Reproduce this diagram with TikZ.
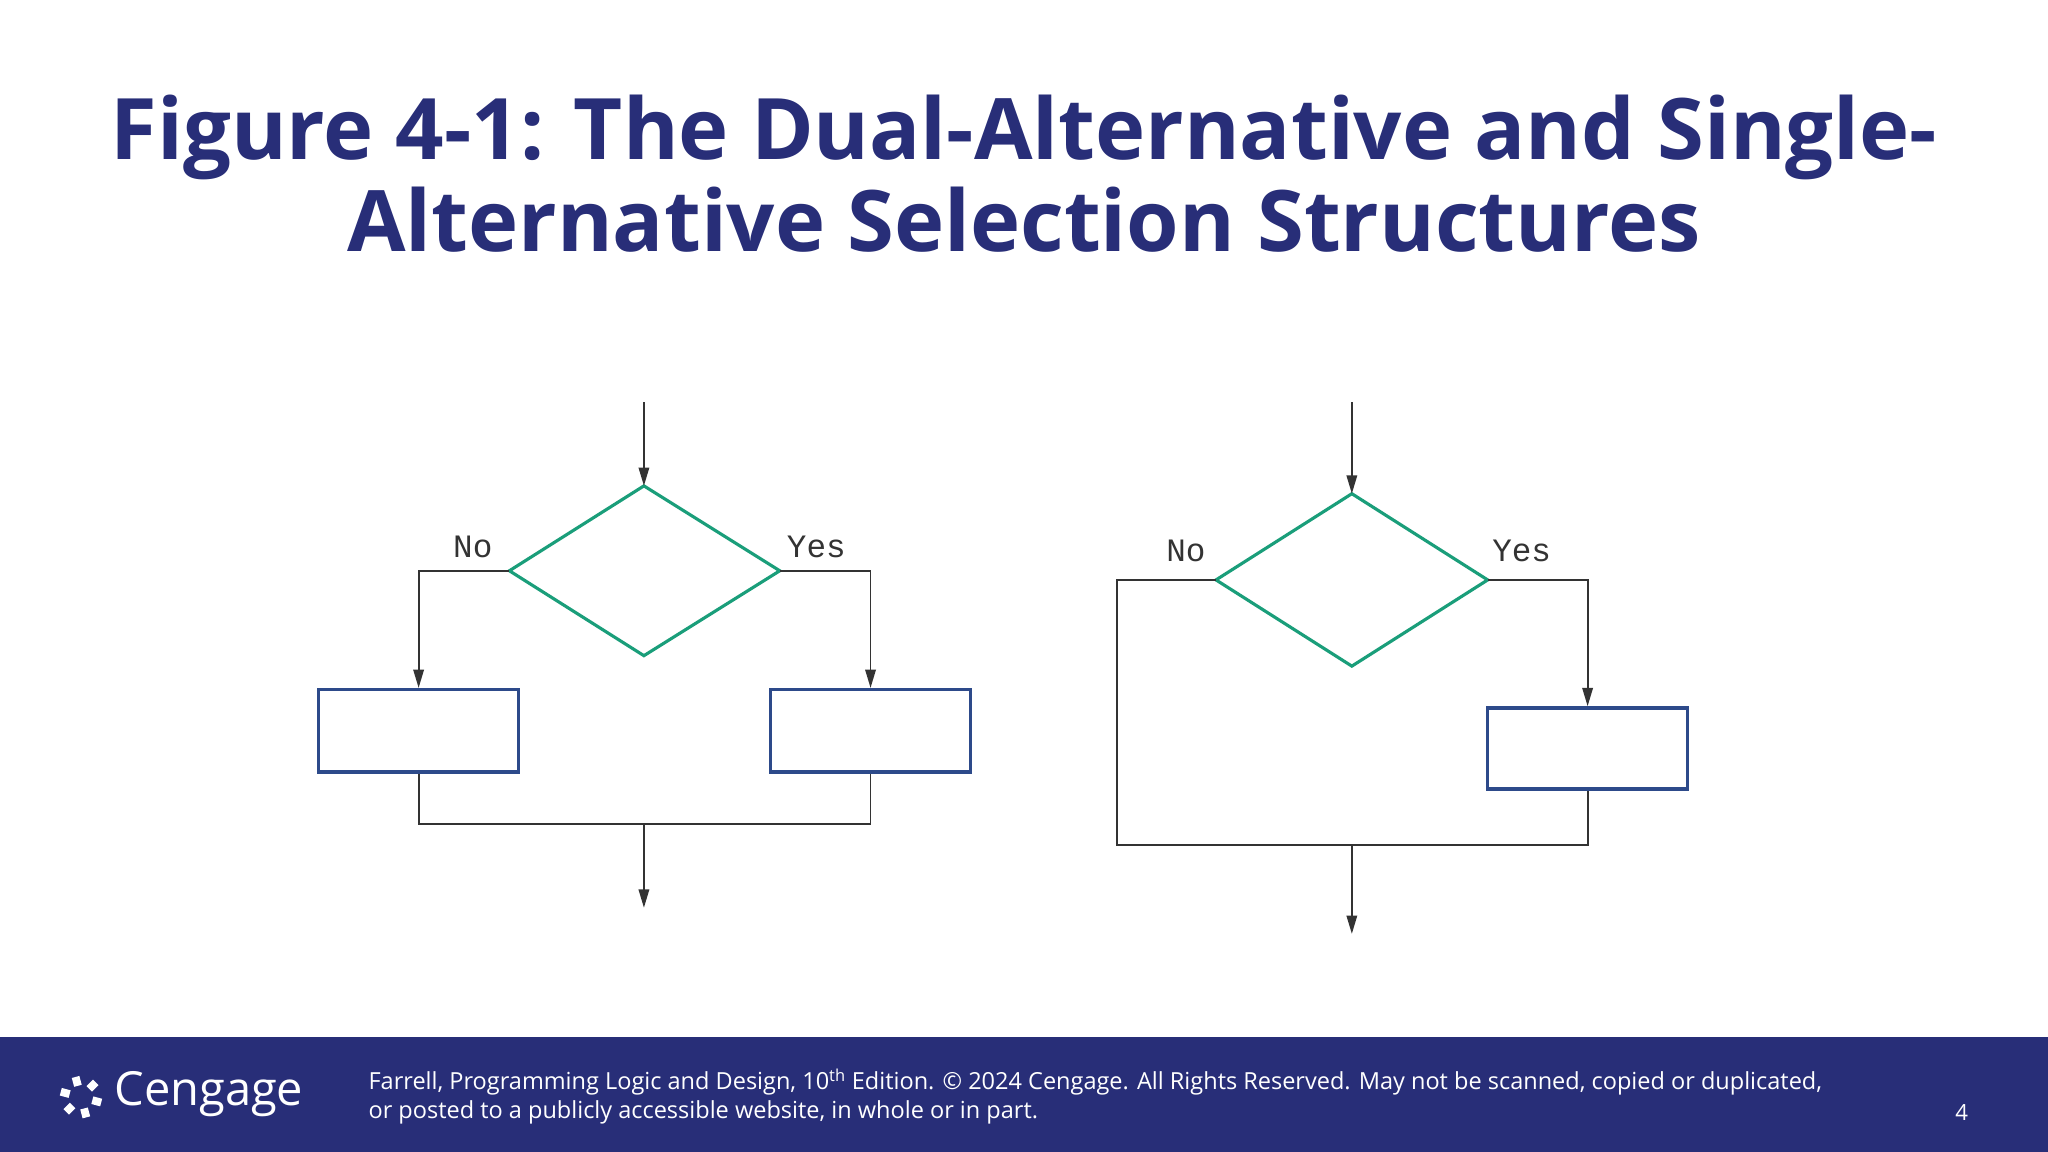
\documentclass[tikz,border=0pt]{standalone}
\usepackage{fontspec}
\setmainfont{Open Sans}
\newfontfamily\cour{Liberation Mono}
\usetikzlibrary{arrows.meta,calc}
\definecolor{navy}{HTML}{282E78}
\definecolor{dgreen}{HTML}{1A9E7A}
\definecolor{bbox}{HTML}{2D4A8A}
\definecolor{lgray}{HTML}{333333}
\tikzset{
 dia/.style={draw=dgreen,line width=2.4pt},
 pbox/.style={draw=bbox,line width=2.6pt},
 conn/.style={draw=lgray,line width=1.4pt},
 arr/.style={conn,-{Triangle[length=14pt,width=8pt]}},
 lbl/.style={font=\cour\fontsize{25}{28}\selectfont,text=lgray}
}
\begin{document}
\begin{tikzpicture}[x=1pt,y=-1pt]
\useasboundingbox (0,0) rectangle (1568,882);
\fill[white] (0,0) rectangle (1568,882);
\node[font=\bfseries\fontsize{65}{70}\selectfont,text=navy,align=center] (title) at (784,133)
 {Figure 4-1: The Dual-Alternative and Single-\\Alternative Selection Structures};
% left diagram
\coordinate (lin) at (493,308);
\coordinate (lt) at (493,372); \coordinate (ll) at (390,437);
\coordinate (lr) at (597,437); \coordinate (lb) at (493,502);
\draw[dia] (lt)--(lr)--(lb)--(ll)--cycle;
\draw[arr] (lin)--(lt);
\node[pbox,minimum width=153pt,minimum height=63pt] (b1) at (320.5,559.5) {};
\node[pbox,minimum width=153pt,minimum height=63pt] (b2) at (666.5,559.5) {};
\draw[arr] (ll)-|(b1.north);
\draw[arr] (lr)-|(b2.north);
\coordinate (lj) at (493,631);
\coordinate (lout) at (493,695);
\draw[conn] (b1.south)|-(lj)-|(b2.south);
\draw[arr] (lj)--(lout);
\node[lbl] (no1) at (362,419) {No};
\node[lbl] (yes1) at (625,419) {Yes};
% right diagram
\coordinate (rin) at (1035,308);
\coordinate (rt) at (1035,378); \coordinate (rl) at (931,444);
\coordinate (rr) at (1139,444); \coordinate (rb) at (1035,510);
\draw[dia] (rt)--(rr)--(rb)--(rl)--cycle;
\draw[arr] (rin)--(rt);
\node[pbox,minimum width=153pt,minimum height=62pt] (b3) at (1215.5,573) {};
\draw[arr] (rr)-|(b3.north);
\coordinate (rc) at (855,444);
\coordinate (rj) at (1035,647);
\coordinate (rout) at (1035,715);
\draw[conn] (rl)--(rc)|-(rj)-|(b3.south);
\draw[arr] (rj)--(rout);
\node[lbl] (no2) at (908,422) {No};
\node[lbl] (yes2) at (1165,422) {Yes};
% footer
\fill[navy] (0,794) rectangle (1568,882);
\coordinate (lc) at (62,840);
\foreach \a in {0,60,...,300}
 \draw[white,line width=6pt] ($(lc)+(\a+15:9)$) -- ($(lc)+(\a+15:16)$);
\node[anchor=west,text=white,font=\fontsize{36}{40}\selectfont] (logo) at (84,838) {Cengage};
\node[anchor=north west,text=white,align=left,font=\fontsize{18}{22}\selectfont,inner sep=0] (foot) at (282,818)
 {Farrell, Programming Logic and Design, 10\textsuperscript{th} Edition. © 2024 Cengage. All Rights Reserved. May not be scanned, copied or duplicated,\\or posted to a publicly accessible website, in whole or in part.};
\node[text=white,font=\fontsize{17}{18}\selectfont] (pg) at (1502,852) {4};
\end{tikzpicture}
\end{document}
